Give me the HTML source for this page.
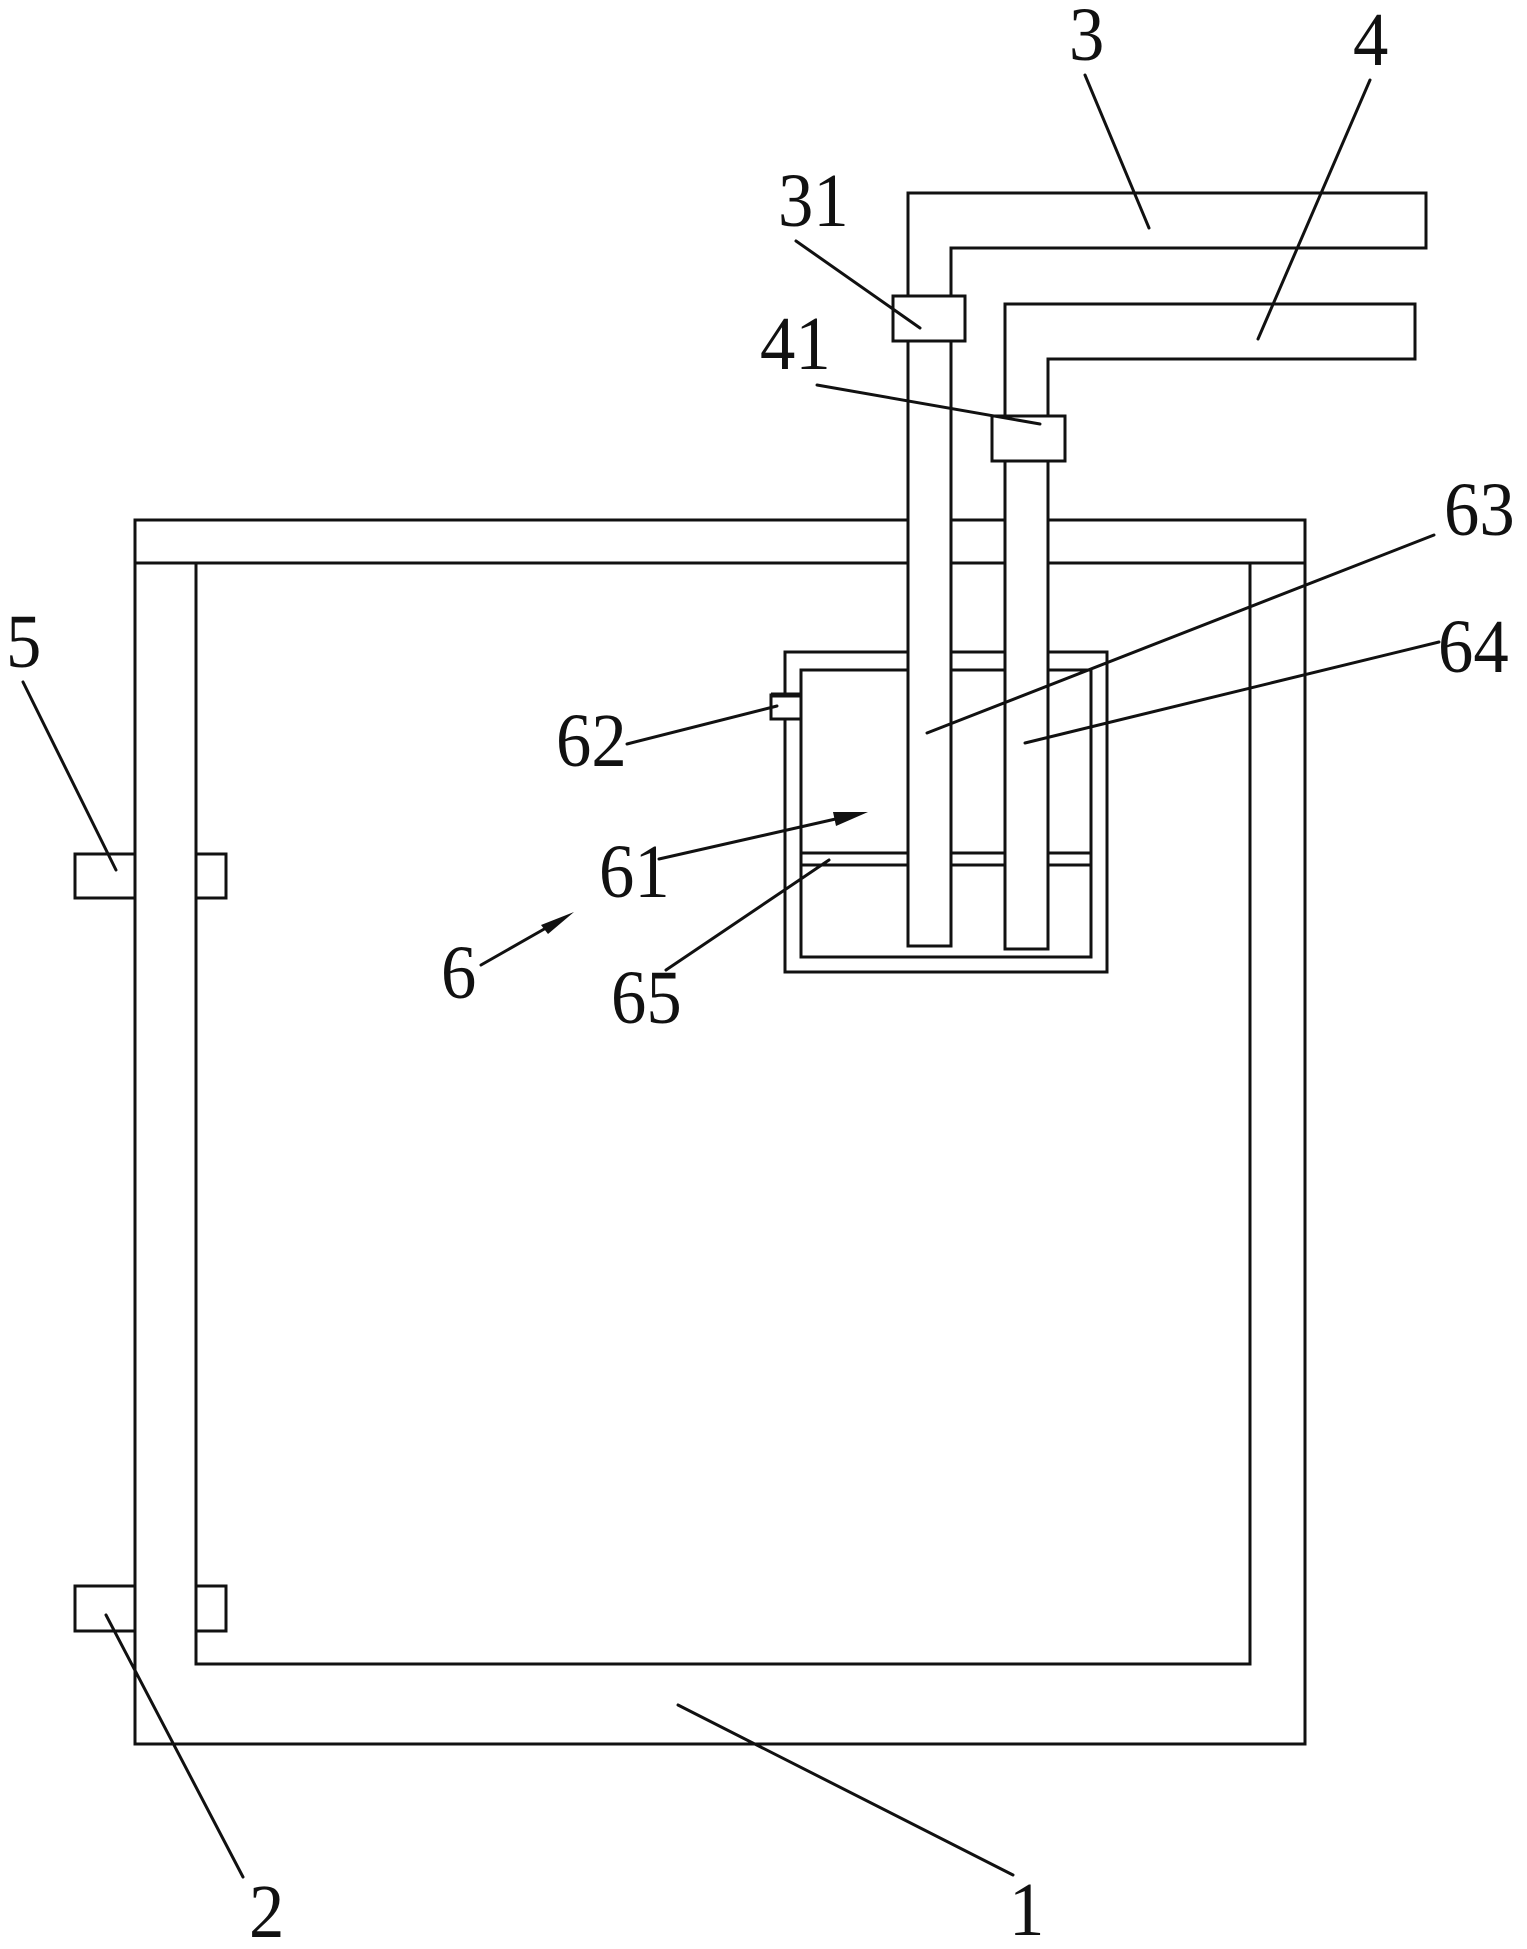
<!DOCTYPE html>
<html>
<head>
<meta charset="utf-8">
<style>
html,body{margin:0;padding:0;background:#fff;}
svg{display:block;}
text{font-family:"Liberation Serif",serif;font-size:76px;fill:#111;}
</style>
</head>
<body>
<svg width="1527" height="1949" viewBox="0 0 1527 1949" xmlns="http://www.w3.org/2000/svg">
<rect width="1527" height="1949" fill="#fff"/>
<g fill="none" stroke="#111" stroke-width="3">
  <!-- frame -->
  <rect x="135" y="520" width="1170" height="1224"/>
  <line x1="135" y1="563" x2="1305" y2="563"/>
  <polyline points="196,563 196,1664 1250,1664 1250,563"/>
  <!-- side blocks -->
  <polyline points="135,854 75,854 75,898 135,898"/>
  <polyline points="196,854 226,854 226,898 196,898"/>
  <polyline points="135,1586 75,1586 75,1631 135,1631"/>
  <polyline points="196,1586 226,1586 226,1631 196,1631"/>
  <!-- tank -->
  <rect x="785" y="652" width="322" height="320" fill="#fff"/>
  <rect x="801" y="670" width="290" height="287"/>
  <line x1="801" y1="853" x2="1091" y2="853"/>
  <line x1="801" y1="865" x2="1091" y2="865"/>
  <!-- pipe 3 -->
  <path d="M908,946 V193 H1426 V248 H951 V946 Z" fill="#fff"/>
  <!-- pipe 4 -->
  <path d="M1005,949 V304 H1415 V359 H1048 V949 Z" fill="#fff"/>
  <!-- valves -->
  <rect x="893" y="296" width="72" height="45" fill="#fff"/>
  <rect x="992" y="416" width="73" height="45" fill="#fff"/>
  <!-- sensor 62 -->
  <rect x="771" y="695" width="30" height="24" fill="#fff"/>
  <line x1="771" y1="695" x2="801" y2="695" stroke-width="5"/>
</g>
<g stroke="#111" stroke-width="3" stroke-linecap="round" fill="none">
  <line x1="1085" y1="75" x2="1149" y2="228"/>
  <line x1="1370" y1="80" x2="1258" y2="339"/>
  <line x1="796" y1="241" x2="920" y2="328"/>
  <line x1="817" y1="385" x2="1040" y2="424"/>
  <line x1="1434" y1="535" x2="927" y2="733"/>
  <line x1="1439" y1="642" x2="1025" y2="743"/>
  <line x1="627" y1="744" x2="777" y2="706"/>
  <line x1="659" y1="859" x2="840" y2="818"/>
  <line x1="481" y1="965" x2="546" y2="928"/>
  <line x1="829" y1="860" x2="666" y2="970"/>
  <line x1="23" y1="682" x2="116" y2="870"/>
  <line x1="106" y1="1615" x2="243" y2="1877"/>
  <line x1="678" y1="1705" x2="1013" y2="1875"/>
</g>
<polygon points="868,812 833,812 836,826" fill="#111"/>
<polygon points="574,912 541,925 548,934" fill="#111"/>
<g>
  <text transform="translate(1069,60) scale(.93,1)">3</text>
  <text transform="translate(1353,65) scale(.93,1)">4</text>
  <text transform="translate(778,226) scale(.93,1)">31</text>
  <text transform="translate(760,369) scale(.93,1)">41</text>
  <text transform="translate(1444,535) scale(.93,1)">63</text>
  <text transform="translate(1438,672) scale(.93,1)">64</text>
  <text transform="translate(556,766) scale(.93,1)">62</text>
  <text transform="translate(599,897) scale(.93,1)">61</text>
  <text transform="translate(441,998) scale(.93,1)">6</text>
  <text transform="translate(611,1023) scale(.93,1)">65</text>
  <text transform="translate(6,667) scale(.93,1)">5</text>
  <text transform="translate(249,1937) scale(.93,1)">2</text>
  <text transform="translate(1009,1935) scale(.93,1)">1</text>
</g>
</svg>
</body>
</html>
